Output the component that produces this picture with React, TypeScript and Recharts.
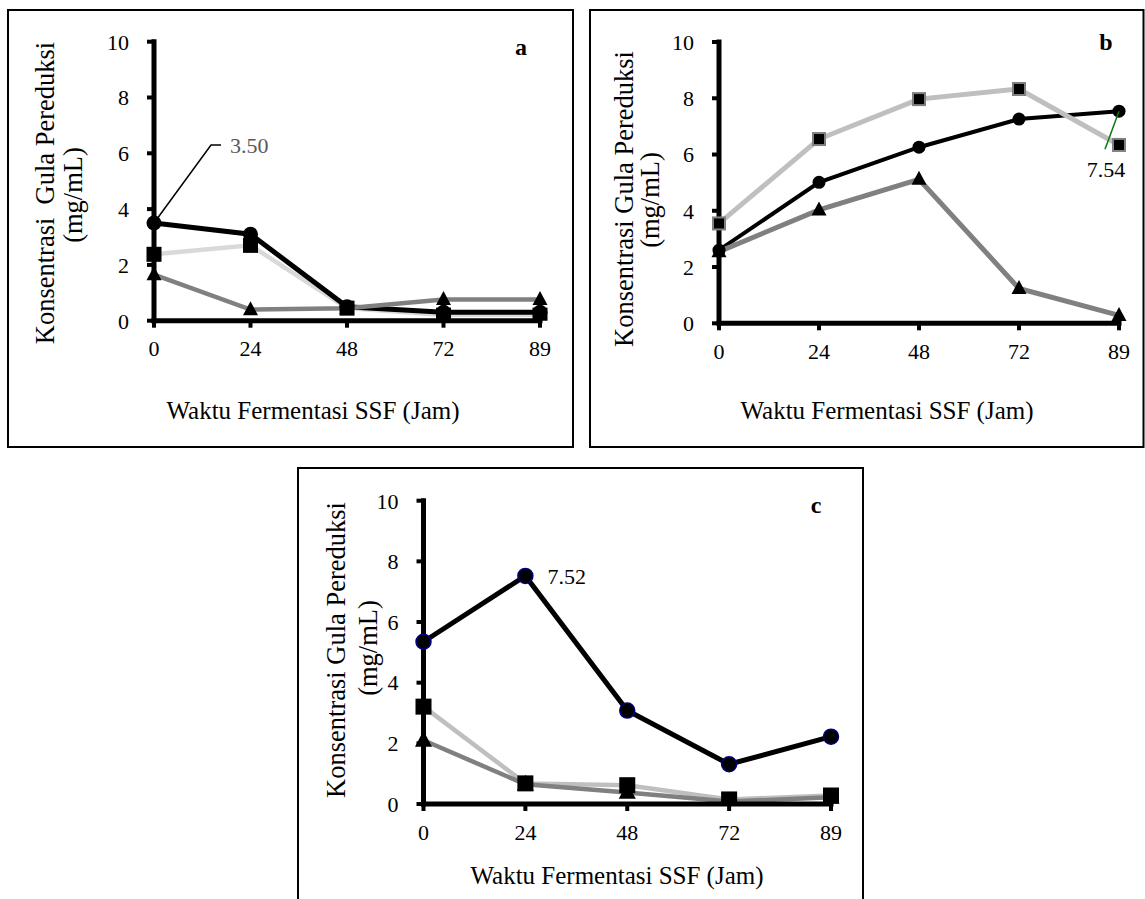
import React from "react";
import { LineChart, Line, XAxis, YAxis, LabelList } from "recharts";

// time points (hours) - shown as equally spaced categories
const hours = ["0", "24", "48", "72", "89"];
const yTicks = [0, 2, 4, 6, 8, 10];

// panel a
const aCircle = [3.5, 3.1, 0.5, 0.3, 0.3];
const aSquare = [2.38, 2.7, 0.45, 0.2, 0.2];
const aTriangle = [1.65, 0.4, 0.45, 0.76, 0.76];

// panel b
const bCircle = [2.6, 5.01, 6.26, 7.26, 7.54];
const bSquare = [3.55, 6.55, 7.97, 8.33, 6.34];
const bTriangle = [2.55, 4.03, 5.12, 1.24, 0.28];

// panel c
const cCircle = [5.35, 7.52, 3.08, 1.31, 2.22];
const cSquare = [3.21, 0.68, 0.62, 0.15, 0.28];
const cTriangle = [2.1, 0.65, 0.38, 0.08, 0.22];

const FONT = "'Liberation Serif', 'Times New Roman', serif";

const toRows = (circle: number[], square: number[], triangle: number[]) =>
  hours.map((h, i) => ({ jam: h, circle: circle[i], square: square[i], triangle: triangle[i] }));

const circleDot = (r: number, fill: string, stroke: string, sw: number) => (props: any) => {
  const { cx, cy, index } = props;
  return <circle key={"c" + index} cx={cx} cy={cy} r={r} fill={fill} stroke={stroke} strokeWidth={sw} />;
};

const squareDot = (size: number, stroke: string, sw: number) => (props: any) => {
  const { cx, cy, index } = props;
  return (
    <rect
      key={"s" + index}
      x={cx - size / 2}
      y={cy - size / 2}
      width={size}
      height={size}
      fill="#000"
      stroke={stroke}
      strokeWidth={sw}
    />
  );
};

const triangleDot = (w: number, h: number) => (props: any) => {
  const { cx, cy, index } = props;
  const d = `M${cx},${cy - h * 0.6} L${cx + w / 2},${cy + h * 0.4} L${cx - w / 2},${cy + h * 0.4} Z`;
  return <path key={"t" + index} d={d} fill="#000" />;
};

// callouts
const labelA = (props: any) => {
  const { x, y, index } = props;
  if (index !== 0) return null;
  return (
    <g>
      <polyline
        points={`${x},${y} ${x + 57},${y - 78} ${x + 67},${y - 78}`}
        fill="none"
        stroke="#000"
        strokeWidth={1.5}
      />
      <text x={x + 76} y={y - 70} fontSize={22} fontFamily={FONT} fill="#595959">
        3.50
      </text>
    </g>
  );
};

const labelB = (props: any) => {
  const { x, y, index } = props;
  if (index !== 4) return null;
  return (
    <g>
      <line x1={x} y1={y} x2={x - 14} y2={y + 38} stroke="#0a7a0a" strokeWidth={1.5} />
      <text x={x - 13} y={y + 66} textAnchor="middle" fontSize={22} fontFamily={FONT} fill="#000">
        7.54
      </text>
    </g>
  );
};

const labelC = (props: any) => {
  const { x, y, index } = props;
  if (index !== 1) return null;
  return (
    <text x={x + 22} y={y + 8} fontSize={22} fontFamily={FONT} fill="#000">
      7.52
    </text>
  );
};

const tickStyle = { fill: "#000", fontSize: 22, fontFamily: FONT };
const axisLineStyle = { stroke: "#000", strokeWidth: 5, strokeLinecap: "square" as const };
const tickLineStyle = { stroke: "#000", strokeWidth: 4 };

const Panel = ({
  left,
  top,
  width,
  height,
  margin,
  data,
  children,
}: {
  left: number;
  top: number;
  width: number;
  height: number;
  margin: { top: number; right: number; bottom: number; left: number };
  data: any[];
  children: React.ReactNode;
}) => (
  <div style={{ position: "absolute", left, top, width, height }}>
    <LineChart width={width} height={height} data={data} margin={margin}>
      <XAxis
        dataKey="jam"
        type="category"
        height={40}
        interval={0}
        padding={{ left: 0, right: 0 }}
        axisLine={axisLineStyle}
        tickLine={tickLineStyle}
        tickSize={7}
        tickMargin={13}
        tick={tickStyle}
      />
      <YAxis
        type="number"
        domain={[0, 10]}
        ticks={yTicks}
        interval={0}
        width={60}
        allowDataOverflow
        axisLine={axisLineStyle}
        tickLine={tickLineStyle}
        tickSize={7}
        tickMargin={18}
        tick={tickStyle}
      />
      {children}
    </LineChart>
  </div>
);

const yTitle = (x1: number, x2: number, cy1: number, cy2: number, line1: string) => (
  <g fontFamily={FONT} fontSize={26.5} fill="#000">
    <text x={x1} y={cy1} textAnchor="middle" transform={`rotate(-90 ${x1} ${cy1})`} style={{ whiteSpace: "pre" }}>
      {line1}
    </text>
    <text x={x2} y={cy2} textAnchor="middle" transform={`rotate(-90 ${x2} ${cy2})`}>
      (mg/mL)
    </text>
  </g>
);

export default function App() {
  const dataA = toRows(aCircle, aSquare, aTriangle);
  const dataB = toRows(bCircle, bSquare, bTriangle);
  const dataC = toRows(cCircle, cSquare, cTriangle);

  return (
    <div
      style={{
        position: "absolute",
        left: 0,
        top: 0,
        width: 1145,
        height: 899,
        overflow: "hidden",
        background: "#fff",
      }}
    >
      {/* panel a */}
      <Panel left={8} top={10} width={565} height={437} data={dataA} margin={{ top: 31.7, right: 33, bottom: 86.3, left: 86 }}>
        <Line dataKey="square" stroke="#d9d9d9" strokeWidth={4.5} dot={squareDot(15, "#000", 0)} activeDot={false} isAnimationActive={false} />
        <Line dataKey="circle" stroke="#000" strokeWidth={5} dot={circleDot(7.5, "#000", "#000", 0)} activeDot={false} isAnimationActive={false}>
          <LabelList dataKey="circle" content={labelA} />
        </Line>
        <Line dataKey="triangle" stroke="#808080" strokeWidth={4.5} dot={triangleDot(15, 14)} activeDot={false} isAnimationActive={false} />
      </Panel>

      {/* panel b */}
      <Panel left={590} top={10} width={553} height={437} data={dataB} margin={{ top: 32, right: 24, bottom: 83.7, left: 69 }}>
        <Line dataKey="circle" stroke="#000" strokeWidth={4} dot={circleDot(6.5, "#000", "#000", 0)} activeDot={false} isAnimationActive={false}>
          <LabelList dataKey="circle" content={labelB} />
        </Line>
        <Line dataKey="triangle" stroke="#808080" strokeWidth={5} dot={triangleDot(15, 14)} activeDot={false} isAnimationActive={false} />
        <Line dataKey="square" stroke="#bfbfbf" strokeWidth={5} dot={squareDot(12, "#808080", 2)} activeDot={false} isAnimationActive={false} />
      </Panel>

      {/* panel c */}
      <Panel left={298} top={468} width={566} height={431} data={dataC} margin={{ top: 32.7, right: 33, bottom: 55, left: 65.5 }}>
        <Line dataKey="square" stroke="#bfbfbf" strokeWidth={4.5} dot={squareDot(16, "#000", 0)} activeDot={false} isAnimationActive={false} />
        <Line dataKey="triangle" stroke="#808080" strokeWidth={4.5} dot={triangleDot(17, 16)} activeDot={false} isAnimationActive={false} />
        <Line dataKey="circle" stroke="#000" strokeWidth={5} dot={circleDot(7.5, "#000", "#000080", 1.5)} activeDot={false} isAnimationActive={false}>
          <LabelList dataKey="circle" content={labelC} />
        </Line>
      </Panel>

      {/* frames, titles and panel letters */}
      <svg
        width={1145}
        height={899}
        style={{ position: "absolute", left: 0, top: 0, pointerEvents: "none" }}
      >
        <g fill="none" stroke="#000" strokeWidth={2}>
          <rect x={8} y={10} width={565} height={437} />
          <rect x={590} y={10} width={553.5} height={437} />
          <rect x={298} y={468} width={565} height={440} />
        </g>

        {yTitle(54, 82, 193, 195, "Konsentrasi\u00a0 Gula Pereduksi")}
        {yTitle(633, 659, 199, 200, "Konsentrasi Gula Pereduksi")}
        {yTitle(345, 377, 650, 648, "Konsentrasi Gula Pereduksi")}

        <g fontFamily={FONT} fontSize={25} fill="#000" textAnchor="middle">
          <text x={313} y={419}>Waktu Fermentasi SSF (Jam)</text>
          <text x={887} y={419}>Waktu Fermentasi SSF (Jam)</text>
          <text x={617} y={884}>Waktu Fermentasi SSF (Jam)</text>
        </g>

        <g fontFamily={FONT} fontSize={24} fontWeight="bold" fill="#000" textAnchor="middle">
          <text x={521} y={55}>a</text>
          <text x={1106} y={50}>b</text>
          <text x={816} y={513}>c</text>
        </g>
      </svg>
    </div>
  );
}
